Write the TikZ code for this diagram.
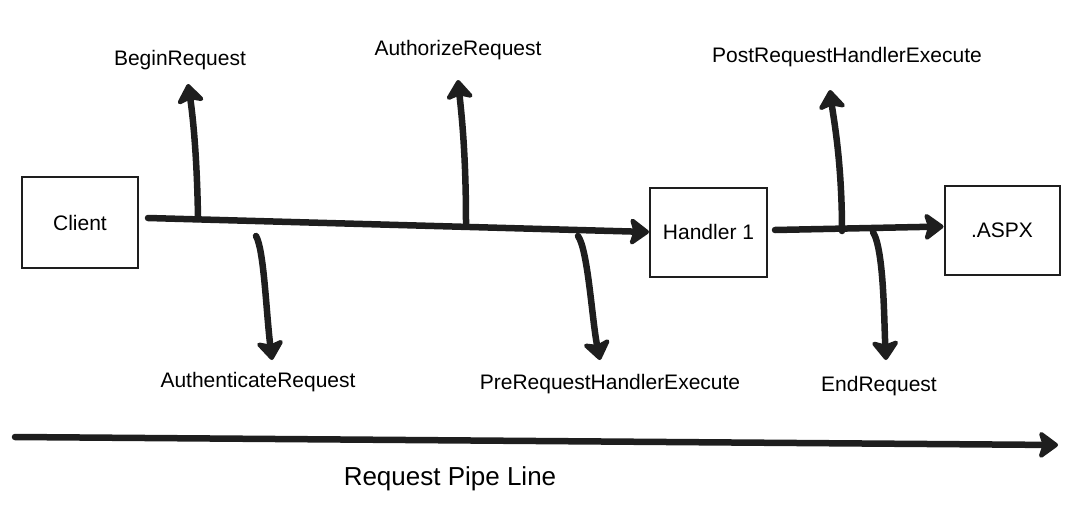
\documentclass[tikz,border=0pt]{standalone}
\usepackage{fontspec}
\setmainfont{Liberation Sans}
\usetikzlibrary{arrows.meta}
\definecolor{ink}{HTML}{1E1E1E}
\begin{document}
\begin{tikzpicture}[x=1pt,y=-1pt,
  box/.style={draw=ink, line width=2pt, inner sep=0pt, font=\fontsize{21}{24}\selectfont},
  lbl/.style={inner sep=0pt, font=\fontsize{21}{24}\selectfont},
  flow/.style={draw=ink, line width=6.5pt, line cap=round,
    -{Stealth[length=22pt, width=32pt, inset=5pt, round]}}]
\useasboundingbox (0,0) rectangle (1088,525);
% boxes
\node[box, minimum width=116pt, minimum height=91pt] (client) at (80,222.5) {Client};
\node[box, minimum width=117pt, minimum height=89pt] (h1) at (708.5,232) {Handler 1};
\node[box, minimum width=115pt, minimum height=89pt] (aspx) at (1002,230.5) {.ASPX};
% labels
\node[lbl] (begin) at (180,60) {BeginRequest};
\node[lbl] (authz) at (458,50) {AuthorizeRequest};
\node[lbl] (post) at (847,57) {PostRequestHandlerExecute};
\node[lbl] (authn) at (258,382) {AuthenticateRequest};
\node[lbl] (pre) at (610,384) {PreRequestHandlerExecute};
\node[lbl] (endr) at (879,386) {EndRequest};
\node[lbl, font=\fontsize{26}{30}\selectfont] (pipe) at (450,479) {Request Pipe Line};
% coordinates on the lines
\coordinate (m0) at (148,218);
\coordinate (bBeg) at (198,219);
\coordinate (bAuthz) at (466,223);
\coordinate (tBeg) at (188,84);
\coordinate (tAuthz) at (458,80);
\coordinate (sAuthn) at (256,236);
\coordinate (tAuthn) at (272,360);
\coordinate (sPre) at (578,236);
\coordinate (tPre) at (600,360);
\coordinate (n0) at (775,230);
\coordinate (bPost) at (842,231);
\coordinate (tPost) at (830,90);
\coordinate (sEnd) at (873,232);
\coordinate (tEnd) at (886,360);
\coordinate (p0) at (15,437);
\coordinate (p1) at (1058,445);
% main flow
\draw[flow] (m0) -- (h1.west);
\draw[flow] (n0) -- ([yshift=4pt]aspx.west);
% branches up
\draw[flow] (bBeg) .. controls (197,150) and (192,110) .. (tBeg);
\draw[flow] (bAuthz) .. controls (466,150) and (461,110) .. (tAuthz);
\draw[flow] (bPost) .. controls (842,160) and (833,115) .. (tPost);
% branches down
\draw[flow] (sAuthn) .. controls (264,250) and (266,310) .. (tAuthn);
\draw[flow] (sPre) .. controls (588,250) and (592,320) .. (tPre);
\draw[flow] (sEnd) .. controls (884,250) and (884,320) .. (tEnd);
% request pipe line
\draw[flow] (p0) -- (p1);
\end{tikzpicture}
\end{document}
